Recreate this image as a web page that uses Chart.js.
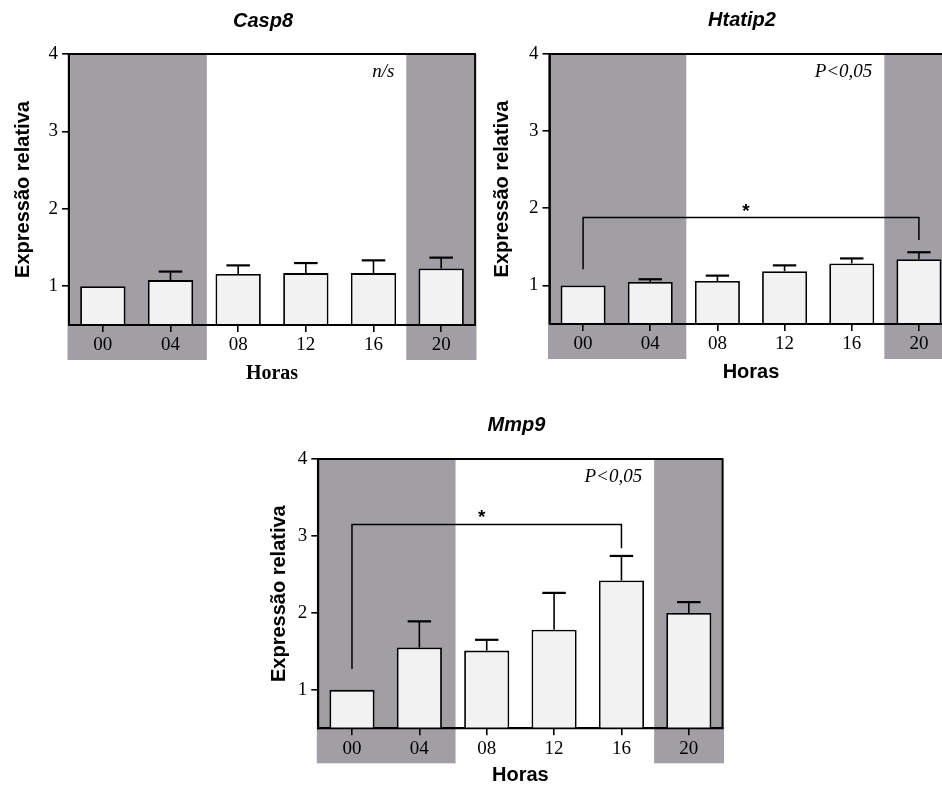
<!DOCTYPE html>
<html><head><meta charset="utf-8">
<script src="https://cdn.jsdelivr.net/npm/chart.js@4.4.0/dist/chart.umd.min.js"></script>
<style>
html,body{margin:0;padding:0;background:#fff;overflow:hidden;width:942px;height:787px;position:relative}
.box{position:absolute}
canvas{display:block}
</style></head><body>
<div class="box" style="left:0;top:0"><canvas id="c1" width="480" height="390"></canvas></div>
<div class="box" style="left:470px;top:0"><canvas id="c2" width="490" height="390"></canvas></div>
<div class="box" style="left:240px;top:400px"><canvas id="c3" width="500" height="390"></canvas></div>
<script>
// ---- data ----
const hours = ['00','04','08','12','16','20'];
const yTicks = [1, 2, 3, 4];
const darkSpans = [[0, 1], [5, 5]];   // category index ranges shaded (dark phase)

const casp8Mean = [1.00, 1.08, 1.16, 1.17, 1.17, 1.23];
const casp8Sem  = [0, 0.11, 0.11, 0.13, 0.165, 0.14];

const htatip2Mean = [1.00, 1.045, 1.057, 1.185, 1.285, 1.34];
const htatip2Sem  = [0, 0.035, 0.07, 0.075, 0.065, 0.09];

const mmp9Mean = [1.00, 1.55, 1.51, 1.78, 2.42, 2.00];
const mmp9Sem  = [0, 0.34, 0.14, 0.48, 0.32, 0.14];

const htatip2Bracket = { from: 0, to: 5, top: 1.88, leftEnd: 1.21, rightEnd: 1.59 };
const mmp9Bracket    = { from: 0, to: 4, top: 3.15, leftEnd: 1.27, rightEnd: 2.84 };

const SHADE = '#a19fa4';
const BAR = '#f2f2f2';

function overlay(p) {
  return {
    id: 'overlay',
    beforeDraw(chart) {
      const { ctx, chartArea: a, scales: { x, y } } = chart;
      const step = x.getPixelForValue(1) - x.getPixelForValue(0);
      const top = y.getPixelForValue(4);
      ctx.save();
      ctx.fillStyle = SHADE;
      for (const [i0, i1] of darkSpans) {
        let l = x.getPixelForValue(i0) - step / 2;
        let r = x.getPixelForValue(i1) + step / 2;
        l -= (i0 === 0) ? 1.5 : 1;
        r += (i1 === hours.length - 1) ? 1.5 : 2.5;
        ctx.fillRect(l, top, r - l, a.bottom - top + 35);
      }
      ctx.restore();
    },
    afterDatasetsDraw(chart) {
      const { ctx, chartArea: a, scales: { x, y } } = chart;
      const meta = chart.getDatasetMeta(0);
      ctx.save();
      ctx.strokeStyle = '#000';
      ctx.fillStyle = '#000';
      // error bars (upper only)
      p.mean.forEach((m, i) => {
        if (!p.sem[i]) return;
        const bar = meta.data[i];
        const cx = x.getPixelForValue(i);
        const y0 = y.getPixelForValue(m);
        const y1 = y.getPixelForValue(m + p.sem[i]);
        const cap = bar.width * 0.26;
        ctx.lineWidth = 1.6;
        ctx.beginPath(); ctx.moveTo(cx, y0); ctx.lineTo(cx, y1); ctx.stroke();
        ctx.lineWidth = 2.2;
        ctx.beginPath(); ctx.moveTo(cx - cap, y1); ctx.lineTo(cx + cap, y1); ctx.stroke();
      });
      // frame
      ctx.lineWidth = 1.8;
      const yTop = y.getPixelForValue(4);
      ctx.beginPath();
      ctx.moveTo(a.left, a.bottom); ctx.lineTo(a.left, yTop);
      ctx.lineTo(a.right, yTop); ctx.lineTo(a.right, a.bottom); ctx.lineTo(a.left, a.bottom);
      ctx.stroke();
      // bracket
      if (p.bracket) {
        const b = p.bracket;
        const xl = x.getPixelForValue(b.from), xr = x.getPixelForValue(b.to);
        const yt = y.getPixelForValue(b.top);
        ctx.lineWidth = 1.5;
        ctx.beginPath();
        ctx.moveTo(xl, y.getPixelForValue(b.leftEnd));
        ctx.lineTo(xl, yt); ctx.lineTo(xr, yt);
        ctx.lineTo(xr, y.getPixelForValue(b.rightEnd));
        ctx.stroke();
        ctx.font = 'bold 19px "Liberation Sans"';
        ctx.textAlign = 'center';
        ctx.textBaseline = 'alphabetic';
        ctx.fillText('*', (xl + xr) / 2 - 5, yt - 1);
      }
      // significance annotation
      const step = x.getPixelForValue(1) - x.getPixelForValue(0);
      const shadeL = x.getPixelForValue(5) - step / 2;
      ctx.font = 'italic 19px "Liberation Serif"';
      ctx.textAlign = 'right';
      ctx.textBaseline = 'middle';
      ctx.fillText(p.note, shadeL - 13, yTop + 18);
      // title
      ctx.font = 'italic bold 20px "Liberation Sans"';
      ctx.textAlign = 'center';
      ctx.textBaseline = 'alphabetic';
      ctx.fillText(p.title, (a.left + a.right) / 2 + p.titleDx, p.titleY);
      ctx.restore();
    }
  };
}

function build(id, p) {
  return new Chart(document.getElementById(id), {
    type: 'bar',
    data: {
      labels: hours,
      datasets: [{
        data: p.mean,
        backgroundColor: BAR,
        borderColor: '#000',
        borderWidth: 1.8,
        barPercentage: 0.67,
        categoryPercentage: 1
      }]
    },
    options: {
      responsive: false,
      animation: false,
      devicePixelRatio: 1,
      events: [],
      layout: { padding: { left: 0, right: p.padRight, top: p.padTop, bottom: 0 } },
      plugins: { legend: { display: false }, tooltip: { enabled: false }, title: { display: false } },
      scales: {
        x: {
          offset: true,
          grid: { display: true, offset: false, drawOnChartArea: false, tickLength: 7, color: '#000', tickColor: '#000', lineWidth: 1.6 },
          border: { display: true, color: '#000', width: 1.8 },
          ticks: { font: { family: 'Liberation Serif', size: 19 }, color: '#000', padding: 2, maxRotation: 0, autoSkip: false },
          title: { display: true, text: 'Horas', color: '#000', font: { family: p.xFont, size: 20, weight: 'bold' }, padding: { top: 0, bottom: p.xTitlePad } },
          afterFit: s => { s.height = p.xH; }
        },
        y: {
          min: 0.5, max: 4,
          afterBuildTicks: s => { s.ticks = yTicks.map(v => ({ value: v })); },
          grid: { display: true, drawOnChartArea: false, tickLength: 7, color: '#000', tickColor: '#000', lineWidth: 1.6 },
          border: { display: true, color: '#000', width: 1.8 },
          ticks: { font: { family: 'Liberation Serif', size: 19 }, color: '#000', padding: 4 },
          title: { display: true, text: 'Expressão relativa', color: '#000', font: { family: 'Liberation Sans', size: 20, weight: 'bold' }, padding: { top: p.yTitlePad, bottom: 0 } },
          afterFit: s => { s.width = p.yW; }
        }
      }
    },
    plugins: [overlay(p)]
  });
}

build('c1', { mean: casp8Mean, sem: casp8Sem, title: 'Casp8', note: 'n/s',
  padTop: 54, padRight: 5, yW: 69, xH: 65, xTitlePad: 4, yTitlePad: 11,
  xFont: 'Liberation Serif', titleDx: -9, titleY: 27 });
build('c2', { mean: htatip2Mean, sem: htatip2Sem, title: 'Htatip2', note: 'P<0,05', bracket: htatip2Bracket,
  padTop: 54, padRight: 7.5, yW: 79.5, xH: 66, xTitlePad: 5.5, yTitlePad: 20.5,
  xFont: 'Liberation Sans', titleDx: -9, titleY: 26 });
build('c3', { mean: mmp9Mean, sem: mmp9Sem, title: 'Mmp9', note: 'P<0,05', bracket: mmp9Bracket,
  padTop: 59, padRight: 17.5, yW: 78.3, xH: 61.7, xTitlePad: 2.5, yTitlePad: 27.5,
  xFont: 'Liberation Sans', titleDx: -4, titleY: 31 });
</script>
</body></html>
